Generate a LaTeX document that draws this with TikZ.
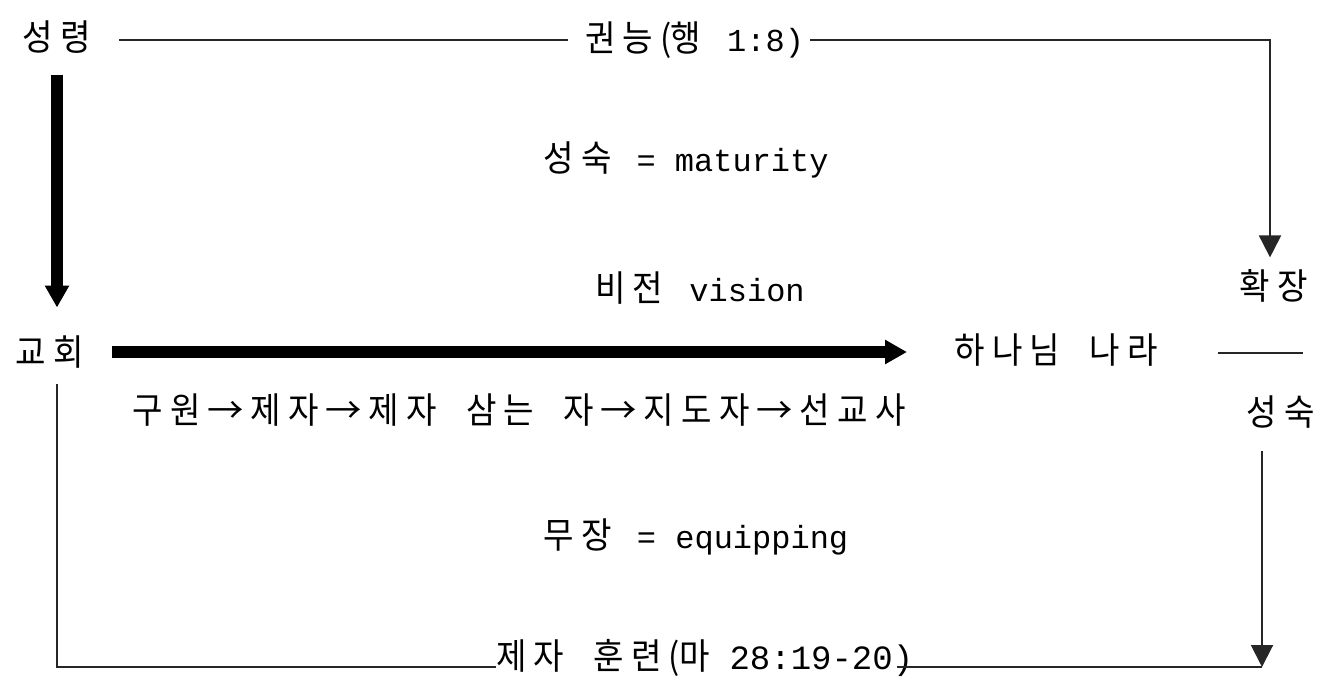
\documentclass[tikz,border=0pt]{standalone}
\usepackage{fontspec}
\setmainfont{Noto Sans CJK KR}
\newfontfamily\kr[LetterSpace=20, WordSpace=2.0, FakeStretch=0.92]{Noto Sans CJK KR}
\newfontfamily\lt{Liberation Mono}
\usetikzlibrary{arrows.meta}
\newcommand{\rarr}{\makebox[50pt]{\scalebox{1.1}[1]{→}}}
\newcommand{\latin}[1]{{\fontsize{32}{36}\selectfont\lt #1}}
\newcommand{\latinb}[1]{{\fontsize{34}{36}\selectfont\lt #1}}
\begin{document}
\begin{tikzpicture}[x=1pt,y=-1pt,
  lbl/.style={inner sep=0pt, font=\fontsize{36}{40}\selectfont\kr},
  thinline/.style={line width=2pt, black!85},
  thinarrow/.style={thinline, -{Triangle[width=22pt,length=22pt]}},
  thickarrow/.style={line width=12pt, -{Triangle[width=23pt,length=22pt]}}]
\useasboundingbox[fill=white] (0,0) rectangle (1322,677);
% nodes
\node[lbl] (sr) at (57,37) {성령};
\node[lbl, anchor=west] (gn) at (585,40) {권능(\kern-1pt 행\hspace{26pt}\latin{1:8)}};
\node[lbl] (sm) at (686,160) {성숙\hspace{25pt}\latin{= maturity}};
\node[lbl] (hj) at (1274,286) {확장};
\node[lbl] (bj) at (700,288) {비전\hspace{26pt}\latin{vision}};
\node[lbl] (gh) at (50,352) {교회};
\node[lbl] (hn) at (1056,350) {하나님 나라};
\node[lbl] (pth) at (519,410) {구원\rarr 제자\rarr 제자 삼는 자\rarr 지도자\rarr 선교사};
\node[lbl] (ss) at (1281,412) {성숙};
\node[lbl] (mj) at (696,537) {무장\hspace{25pt}\latin{= equipping}};
\node[lbl, anchor=west] (jh) at (496,658) {제자 훈련(\kern-1pt 마\hspace{20pt}\latinb{28:19-20)}};
% free ends
\coordinate (se) at (1303,353);
\coordinate (bl) at (57,667);
\coordinate (br) at (1262,667);
\coordinate (tr) at (1270,40);
% connectors
\draw[thinline] ([xshift=28pt]sr.east |- gn.west) -- ([xshift=-17pt]gn.west);
\draw[thinarrow] ([xshift=6pt]gn.east) -- (tr) -- ([yshift=12pt]tr |- hj.north);
\draw[thickarrow] ([yshift=-21pt]sr.south -| bl) -- ([yshift=28pt]gh.north -| bl);
\draw[thickarrow] ([xshift=28pt]gh.east) -- (gh.east -| 907,0);
\draw[thinline] (se -| hn.east) ++(60pt,0) -- (se);
\draw[thinarrow] ([yshift=-23pt]ss.south -| br) -- (br);
\draw[thinline] ([yshift=-16pt]gh.south -| bl) -- (bl) -- (bl -| jh.west);
\draw[thinline] ([xshift=-16pt]jh.east |- br) -- (br);
\end{tikzpicture}
\end{document}
